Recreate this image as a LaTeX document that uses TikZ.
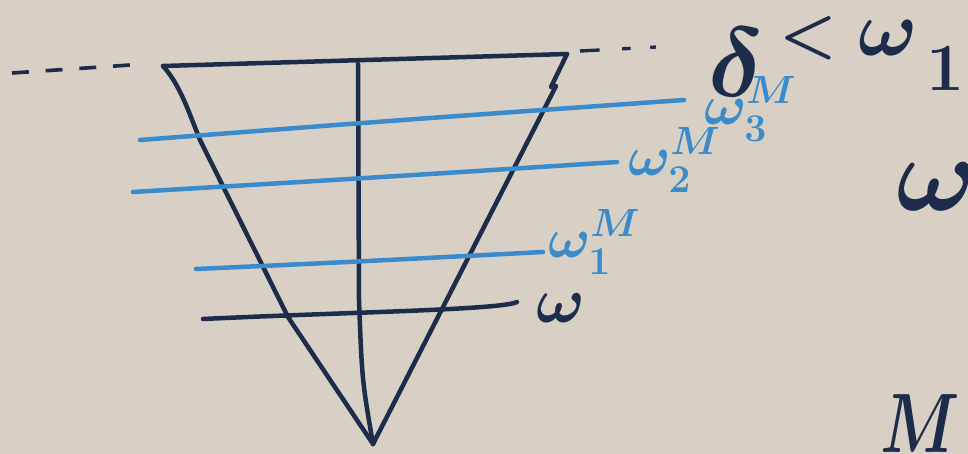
\documentclass[tikz,border=0pt]{standalone}
\usepackage{fix-cm}
\definecolor{paper}{HTML}{D8D0C5}
\definecolor{ink}{HTML}{1D2C4A}
\definecolor{blueink}{HTML}{3A8BCB}
\begin{document}
\begin{tikzpicture}[x=0.025cm,y=-0.025cm,
  inkline/.style={ink, line width=3.2pt, line cap=round, line join=round},
  blueline/.style={blueink, line width=3.2pt, line cap=round},
  dashline/.style={ink, line width=2.6pt, dash pattern=on 12pt off 12pt},
  lbl/.style={inner sep=0pt, outer sep=0pt},
  bluelbl/.style={lbl, blueink, font=\fontsize{40}{48}\selectfont\boldmath},
  inklbl/.style={lbl, ink}]
\fill[paper] (0,0) rectangle (968,454);
\useasboundingbox (0,0) rectangle (968,454);

% corners of the V
\coordinate (tl) at (163,66);
\coordinate (tr) at (567,54);
\coordinate (bot) at (373,444);
\coordinate (mt) at (358,64);
\coordinate (dl) at (12,73);
\coordinate (dle) at (145,64);
\coordinate (dr) at (580,51);
\coordinate (dre) at (676,46);

% dashed extensions
\draw[dashline] (dl) -- (dle);
\draw[ink, line width=2.4pt, dash pattern=on 14pt off 16pt on 6pt off 14pt on 4pt off 20pt] (dr) -- (dre);

% top edge
\draw[inkline] (tl) -- (tr);
% left edge (slightly curved)
\draw[inkline] (tl) .. controls (180,85) and (188,110) .. (200,140)
  -- (288,317) -- (bot);
% right edge with small kink
\draw[inkline] (tr) -- (551,87) -- (556,86) -- (bot);
% middle vertical
\draw[inkline] (mt) -- (359,300) .. controls (362,380) .. (bot);

% horizontal levels
\coordinate (w3a) at (140,140); \coordinate (w3b) at (684,100);
\coordinate (w2a) at (133,192); \coordinate (w2b) at (617,162);
\coordinate (w1a) at (196,269); \coordinate (w1b) at (543,252);
\coordinate (w0a) at (203,319); \coordinate (w0b) at (517,302);

\draw[blueline] (w3a) .. controls (400,120) .. (w3b);
\draw[blueline] (w2a) .. controls (400,176) .. (w2b);
\draw[blueline] (w1a) .. controls (350,262) .. (w1b);
\draw[inkline] (w0a) .. controls (350,312) and (500,310) .. (w0b);

% labels
\node[inklbl, font=\fontsize{46}{54}\selectfont\boldmath, anchor=base west] (lw0) at (536,322) {$\omega$};
\node[bluelbl, anchor=base west] (lw1) at (548,257) {$\omega_1^M$};
\node[bluelbl, anchor=base west] (lw2) at (628,175) {$\omega_2^M$};
\node[bluelbl, anchor=base west] (lw3) at (704,124) {$\omega_3^M$};

% top right: delta < omega_1
\node[inklbl, font=\fontsize{70}{78}\selectfont\boldmath, anchor=base west] (dlt) at (708,96) {$\delta$};
\node[inklbl, font=\fontsize{46}{54}\selectfont\boldmath] (lt) at (808,38) {$<$};
\node[inklbl, font=\fontsize{56}{64}\selectfont\boldmath, anchor=base west] (om1) at (858,55) {$\omega$};
\node[inklbl, font=\fontsize{48}{56}\selectfont\boldmath, anchor=base west] (one) at (926,90) {$1$};

% right margin, partly cut off
\node[inklbl, font=\fontsize{76}{84}\selectfont\boldmath, anchor=base west] (omr) at (896,210) {$\omega$};
\node[inklbl, font=\fontsize{60}{68}\selectfont\boldmath, anchor=base west, xscale=0.75] (mr) at (880,452) {$M$};
\end{tikzpicture}
\end{document}
